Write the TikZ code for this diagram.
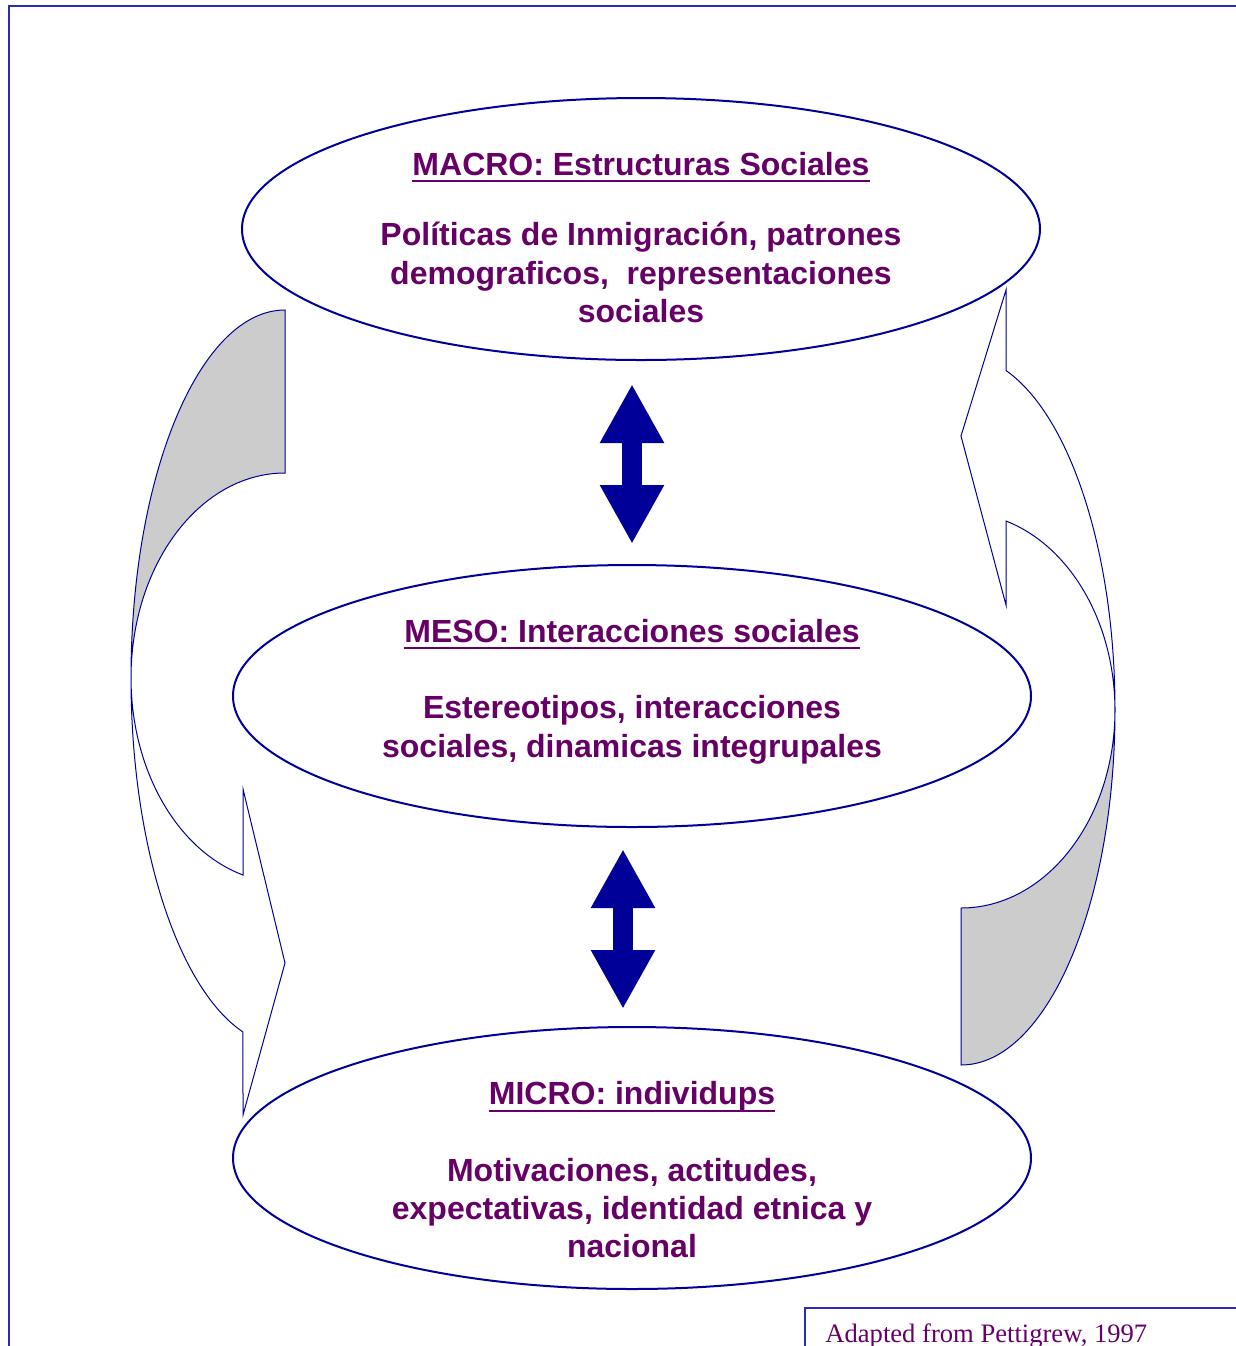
\documentclass[tikz,border=0pt]{standalone}
\usepackage{fontspec}
\setmainfont{Liberation Serif}
\setsansfont{Liberation Sans}
\usepackage{tikz}
\usetikzlibrary{arrows.meta,shapes.geometric}
\definecolor{navy}{HTML}{000099}
\definecolor{plum}{HTML}{660066}
\definecolor{framec}{HTML}{2B2BBB}
\newcommand{\ulbar}[1]{\setbox0\hbox{#1}\rlap{\rule[-3.5pt]{\wd0}{1pt}}\box0}

\begin{document}
\begin{tikzpicture}[x=0.5pt,y=-0.5pt,
    level/.style={ellipse,draw=navy,line width=1pt,fill=white,
      minimum width=399pt,minimum height=131pt,inner xsep=0pt,inner ysep=-14pt,
      align=center,text=plum,
      font=\sffamily\bfseries\fontsize{16}{19.2}\selectfont},
    band/.style={draw=navy,line width=0.5pt,line join=miter},
    updown/.style={navy,line width=10pt,
      {Triangle[length=29.5pt,width=30pt]}-{Triangle[length=29.5pt,width=30pt]}},
    frame/.style={draw=framec,line width=0.8pt}]
  \useasboundingbox (0,0) rectangle (1236,1346);
  % page frame and source box
  \draw[frame] (9,1346) -- (9,6) -- (1236,6);
  \draw[frame] (805,1346) -- (805,1308) -- (1236,1308);
  \node[anchor=base west,inner sep=0pt,text=plum,
    font=\rmfamily\fontsize{13.3}{16}\selectfont] (src) at (825,1342)
    {Adapted from Pettigrew, 1997};

  % the three levels
  \node[level] (macro) at (641,229) {\rule{0pt}{20pt}\ulbar{MACRO: Estructuras Sociales}\\[16pt]
    Políticas de Inmigración, patrones\\demograficos,\ \ representaciones\\sociales};
  \node[level] (meso) at (632,696) {\ulbar{MESO: Interacciones sociales}\\[19pt]
    Estereotipos, interacciones\\sociales, dinamicas integrupales\rule[-8pt]{0pt}{8pt}};
  \node[level] (micro) at (632,1158) {\rule{0pt}{23.5pt}\ulbar{MICRO: individups}\\[19pt]
    Motivaciones, actitudes,\\expectativas, identidad etnica y\\nacional};

  % two-way links between levels
  \draw[updown,shorten <=11.5pt,shorten >=10pt]
    (macro.south -| meso.north) -- (meso.north);
  \draw[updown,shorten <=10.5pt,shorten >=8.5pt]
    ([xshift=-4.5pt]meso.south) -- ([xshift=-4.5pt]micro.north);

  % left curved arrow, macro down to micro
  \path[band,fill=gray!40] (285,310)
    arc[start angle=270,end angle=180,x radius=154,y radius=368]
    arc[start angle=180,end angle=270,x radius=154,y radius=205] -- cycle;
  \path[band,fill=white] (131,678)
    arc[start angle=180,end angle=105.83,x radius=154,y radius=368]
    -- (243,1115) -- (285,963) -- (243,789) -- (243,875)
    arc[start angle=105.83,end angle=180,x radius=154,y radius=205] -- cycle;

  % right curved arrow, micro up to macro
  \path[band,fill=gray!40] (1115,710)
    arc[start angle=0,end angle=90,x radius=154,y radius=355]
    -- (961,908)
    arc[start angle=90,end angle=0,x radius=154,y radius=198] -- cycle;
  \path[band,fill=white] (1115,710)
    arc[start angle=360,end angle=287,x radius=154,y radius=355]
    -- (1006,290) -- (961,436) -- (1006,605) -- (1006,521)
    arc[start angle=287,end angle=360,x radius=154,y radius=198] -- cycle;
\end{tikzpicture}
\end{document}
